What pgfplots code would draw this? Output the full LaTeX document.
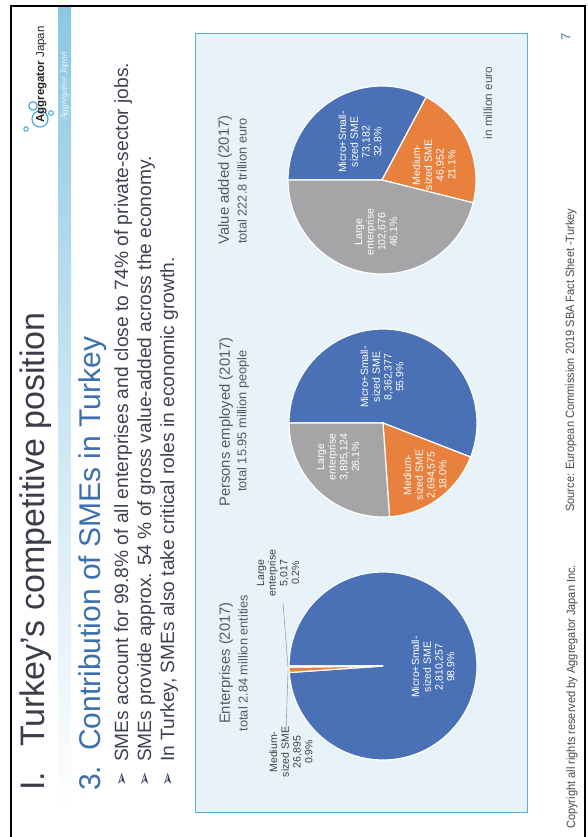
\documentclass[border=0pt]{standalone}
\usepackage{pgfplots}
\pgfplotsset{compat=1.18}
\usepackage{pgfplotstable}
\usepackage{fontspec}
\setmainfont{Liberation Sans}
\newfontfamily\dejavu{DejaVu Sans}
\newfontfamily\serifit{Liberation Serif}
\newfontfamily\narrow[FakeStretch=0.92]{Liberation Sans}

\definecolor{titlegray}{HTML}{3A3D4A}
\definecolor{headblue}{HTML}{3A70B0}
\definecolor{bodygray}{HTML}{3E4352}
\definecolor{bandblue}{HTML}{8CC7E2}
\definecolor{panelfill}{HTML}{E8F3F9}
\definecolor{paneldraw}{HTML}{5DAEDB}
\definecolor{pieblue}{HTML}{4A70B6}
\definecolor{pieorange}{HTML}{E8803E}
\definecolor{piegray}{HTML}{A5A5A8}
\definecolor{labgray}{HTML}{404040}
\definecolor{titlepie}{HTML}{595959}
\definecolor{bulletnavy}{HTML}{2E3A63}
\definecolor{logoblue}{HTML}{3AA6DA}
\definecolor{leadgray}{HTML}{A0A0A0}
\definecolor{footgray}{HTML}{4A4A4A}
\definecolor{numblue}{HTML}{3F72B3}

% Enterprises (2017)
\pgfplotstableread{
part value pct
micro 2810257 98.9
medium 26895 0.9
large 5017 0.2
}\tabEnt
% Persons employed (2017)
\pgfplotstableread{
part value pct
micro 8362377 55.9
medium 2694575 18.0
large 3895124 26.1
}\tabEmp
% Value added (2017), million euro
\pgfplotstableread{
part value pct
micro 73182 32.8
medium 46952 21.1
large 102676 46.1
}\tabVal

\newcommand\pieangles[3]{%
  \pgfplotstablegetelem{0}{pct}\of{#1}%
  \pgfmathsetmacro#2{180-3.6*\pgfplotsretval}%
  \pgfplotstablegetelem{1}{pct}\of{#1}%
  \pgfmathsetmacro#3{#2-3.6*\pgfplotsretval}%
}
\newcommand\drawpie[4]{%
  \fill[pieblue, draw=white, line width=1.2pt] (axis cs:#1,#2) -- ++(180:94pt) arc[start angle=180, end angle=#3, radius=94pt] -- cycle;
  \fill[pieorange, draw=white, line width=1.2pt] (axis cs:#1,#2) -- ++(#3:94pt) arc[start angle=#3, end angle=#4, radius=94pt] -- cycle;
  \fill[piegray, draw=white, line width=1.2pt] (axis cs:#1,#2) -- ++(#4:94pt) arc[start angle=#4, end angle=-180, radius=94pt] -- cycle;
}
\newcommand\lab{\fontsize{10.5}{11.7}\selectfont}

\begin{document}
\begin{tikzpicture}
\pieangles{\tabEnt}{\EntA}{\EntB}
\pieangles{\tabEmp}{\EmpA}{\EmpB}
\pieangles{\tabVal}{\ValA}{\ValB}
\begin{axis}[
  name=ax, at={(0,0)}, anchor=south west,
  width=588pt, height=837pt, scale only axis,
  xmin=0, xmax=588, ymin=0, ymax=837, y dir=reverse,
  hide axis, clip=false,
]
% background and frame
\fill[white] (axis cs:0,0) rectangle (axis cs:588,837);
\shade[top color=bandblue, bottom color=white, middle color=bandblue!45] (axis cs:58,7) rectangle (axis cs:71,815);
\draw[black, line width=2.2pt] (axis cs:11,6) rectangle (axis cs:585,840);

% logo
\draw[logoblue, line width=1.1pt] (axis cs:33,106) circle[radius=4.2pt];
\draw[logoblue, line width=1.1pt] (axis cs:40,119) circle[radius=8pt];
\draw[logoblue, line width=1pt] (axis cs:26,129) circle[radius=2.2pt];
\draw[logoblue, line width=1pt] (axis cs:51,113) circle[radius=2.4pt];
\node[rotate=90, anchor=base west, inner sep=0, text=black!85, font=\fontsize{11.5}{12}\selectfont] at (axis cs:44,123) {\textbf{Aggregator} Japan};
\node[rotate=90, inner sep=0, text=white, opacity=0.9, font=\serifit\itshape\fontsize{9.3}{10}\selectfont] at (axis cs:64.5,86) {Aggregator Japan};

% title and heading
\node[rotate=90, anchor=base west, inner sep=0, text=titlegray, font=\fontsize{34}{37}\selectfont] at (axis cs:44,791) {I.};
\node[rotate=90, anchor=base west, inner sep=0, text=titlegray, font=\fontsize{34}{37}\selectfont] at (axis cs:44,747) {Turkey’s competitive position};
\node[rotate=90, anchor=base west, inner sep=0, text=headblue, font=\fontsize{30}{33}\selectfont] at (axis cs:100,791) {3.};
\node[rotate=90, anchor=base west, inner sep=0, text=headblue, font=\fontsize{30}{33}\selectfont] at (axis cs:100,751) {Contribution of SMEs in Turkey};

% bullets
\node[rotate=90, anchor=base west, inner sep=0, text=bulletnavy, font=\dejavu\fontsize{17}{18}\selectfont] at (axis cs:127,787) {➢};
\node[rotate=90, anchor=base west, inner sep=0, text=bulletnavy, font=\dejavu\fontsize{17}{18}\selectfont] at (axis cs:150,787) {➢};
\node[rotate=90, anchor=base west, inner sep=0, text=bulletnavy, font=\dejavu\fontsize{17}{18}\selectfont] at (axis cs:173,787) {➢};
\node[rotate=90, anchor=base west, inner sep=0, text=bodygray, font=\fontsize{19.2}{21}\selectfont] at (axis cs:128,762) {SMEs account for 99.8\% of all enterprises and close to 74\% of private-sector jobs.};
\node[rotate=90, anchor=base west, inner sep=0, text=bodygray, font=\fontsize{19.2}{21}\selectfont] at (axis cs:151,762) {SMEs provide approx. 54 \% of gross value-added across the economy.};
\node[rotate=90, anchor=base west, inner sep=0, text=bodygray, font=\fontsize{19.2}{21}\selectfont] at (axis cs:174,762) {In Turkey, SMEs also take critical roles in economic growth.};

% panel
\filldraw[fill=panelfill, draw=paneldraw, line width=0.9pt] (axis cs:195,33) rectangle (axis cs:527,812);

% pies
\drawpie{383}{666}{\EntA}{\EntB}
\drawpie{383}{423}{\EmpA}{\EmpB}
\drawpie{382}{180}{\ValA}{\ValB}

% pie titles
\node[rotate=90, text=titlepie, inner sep=0, font=\fontsize{14.8}{16}\selectfont] at (axis cs:226,663) {Enterprises (2017)};
\node[rotate=90, text=titlepie, inner sep=0, font=\fontsize{12.8}{14}\selectfont] at (axis cs:243,663) {total 2.84 million entities};
\node[rotate=90, text=titlepie, inner sep=0, font=\fontsize{14.8}{16}\selectfont] at (axis cs:226,422) {Persons employed (2017)};
\node[rotate=90, text=titlepie, inner sep=0, font=\fontsize{12.8}{14}\selectfont] at (axis cs:243,421) {total 15.95 million people};
\node[rotate=90, text=titlepie, inner sep=0, font=\fontsize{14.8}{16}\selectfont] at (axis cs:225,180) {Value added (2017)};
\node[rotate=90, text=titlepie, inner sep=0, font=\fontsize{12.8}{14}\selectfont] at (axis cs:242,181) {total 222.8 trillion euro};
\node[rotate=90, text=titlepie, inner sep=0, font=\fontsize{11.8}{13}\selectfont] at (axis cs:488,103) {in million euro};

% pie labels: enterprises
\node[rotate=90, align=center, text=white, inner sep=0, font=\lab] at (axis cs:433,667) {Micro+Small-\\sized SME\\2,810,257\\98.9\%};
\node[rotate=90, align=center, text=labgray, inner sep=0, font=\lab] at (axis cs:278,573) {Large\\enterprise\\5,017\\0.2\%};
\node[rotate=90, align=center, text=labgray, inner sep=0, font=\lab] at (axis cs:291,752) {Medium-\\sized SME\\26,895\\0.9\%};
\addplot[leadgray, line width=0.6pt, mark=none] coordinates {(283,603) (288,667)};
\addplot[leadgray, line width=0.6pt, mark=none] coordinates {(286,731) (288,671)};
% persons employed
\node[rotate=90, align=center, text=white, inner sep=0, font=\lab] at (axis cs:382,377) {Micro+Small-\\sized SME\\8,362,377\\55.9\%};
\node[rotate=90, align=center, text=white, inner sep=0, font=\lab] at (axis cs:338,457) {Large\\enterprise\\3,895,124\\26.1\%};
\node[rotate=90, align=center, text=white, inner sep=0, font=\lab] at (axis cs:425,475) {Medium-\\sized SME\\2,694,575\\18.0\%};
% value added
\node[rotate=90, align=center, text=white, inner sep=0, font=\lab] at (axis cs:360,142) {Micro+Small-\\sized SME\\73,182\\32.8\%};
\node[rotate=90, align=center, text=white, inner sep=0, font=\lab] at (axis cs:434,165) {Medium-\\sized SME\\46,952\\21.1\%};
\node[rotate=90, align=center, text=white, inner sep=0, font=\lab] at (axis cs:376,232) {Large\\enterprise\\102,676\\46.1\%};

% footer
\node[rotate=90, anchor=base west, inner sep=0, text=footgray, font=\narrow\fontsize{12}{13}\selectfont] at (axis cs:574,512) {Source: European Commission 2019 SBA Fact Sheet -Turkey};
\node[rotate=90, anchor=base west, inner sep=0, text=footgray, font=\narrow\fontsize{12}{13}\selectfont] at (axis cs:575,829) {Copyright all rights reserved by Aggregator Japan Inc.};
\node[rotate=90, inner sep=0, text=numblue, font=\fontsize{13}{14}\selectfont] at (axis cs:566,37) {7};
\end{axis}
\pgfresetboundingbox
\path[use as bounding box] (ax.south west) rectangle (ax.north east);
\end{tikzpicture}
\end{document}
